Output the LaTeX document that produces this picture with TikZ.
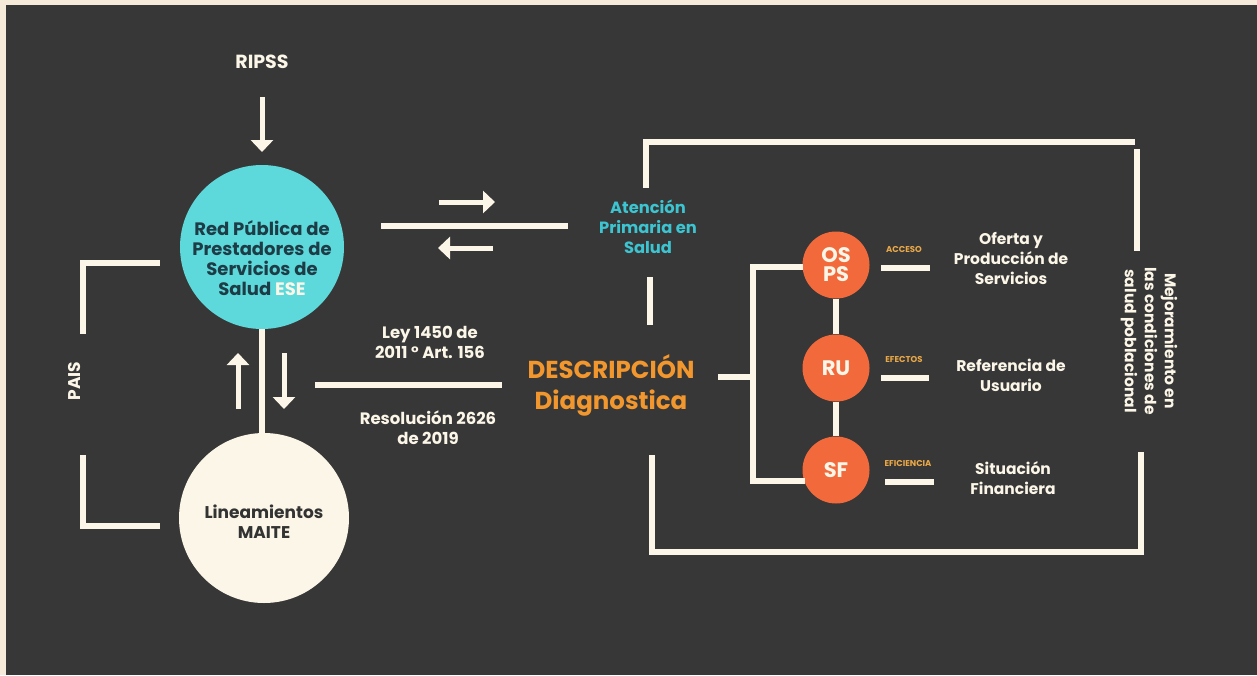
\documentclass[tikz,border=0pt]{standalone}
\usepackage{fontspec}
\setmainfont{Poppins}
\usetikzlibrary{arrows.meta}
\definecolor{bg}{HTML}{373737}
\definecolor{cream}{HTML}{FBF6E8}
\definecolor{strip}{HTML}{F6EBDA}
\definecolor{cyanc}{HTML}{5DD8DB}
\definecolor{cyantxt}{HTML}{3DC4D1}
\definecolor{orangec}{HTML}{F26A3B}
\definecolor{orangetxt}{HTML}{F2962E}
\definecolor{gold}{HTML}{EAA847}
\definecolor{darkteal}{HTML}{1D3C46}
\definecolor{darktxt}{HTML}{333333}
\tikzset{
  wline/.style={draw=cream,line width=6pt},
  warrow/.style={draw=cream,line width=5pt,-{Triangle[width=22pt,length=12pt]}},
  lbl/.style={text=cream,font=\bfseries\fontsize{15.5}{20}\selectfont,align=center,inner sep=0pt},
  small/.style={text=gold,font=\bfseries\fontsize{8.5}{9}\selectfont,inner sep=0pt},
  ocirc/.style={circle,fill=orangec,minimum size=67pt,inner sep=0pt,text=cream,font=\bfseries\fontsize{21}{22}\selectfont,align=center},
}
\begin{document}
\begin{tikzpicture}[x=1pt,y=-1pt]
\useasboundingbox (0,0) rectangle (1257,675);
\fill[strip] (0,0) rectangle (1257,675);
\fill[bg] (6,5) rectangle (1257,675);

% ---- left part ----
\node[lbl,font=\bfseries\fontsize{19}{20}\selectfont] (ripss) at (262,62) {RIPSS};
\coordinate (ripssA) at (262,97);
\coordinate (ripssB) at (262,152);
\draw[warrow] (ripssA) -- (ripssB);

\node[circle,fill=cyanc,minimum size=164pt,inner sep=0pt] (red) at (262,247) {};
\node[text=darkteal,font=\bfseries\fontsize{18}{20}\selectfont,align=center,inner sep=0pt] (redtxt) at (262,258)
  {Red Pública de\\Prestadores de\\Servicios de\\Salud \textcolor{cream}{ESE}};

\node[circle,fill=cream,minimum size=170pt,inner sep=0pt] (maite) at (264,518) {};
\node[text=darktxt,font=\bfseries\fontsize{17}{20}\selectfont,align=center,inner sep=0pt] (maitetxt) at (264,522)
  {Lineamientos\\MAITE};

\draw[wline] (red.south) -- (red.south |- maite.north);

% left brackets
\coordinate (lbA) at (160,263);
\coordinate (lbB) at (83,263);
\coordinate (lbC) at (83,334);
\draw[wline] (lbA) -- (lbB) -- (lbC);
\coordinate (lbD) at (83,455);
\coordinate (lbE) at (83,526);
\coordinate (lbF) at (160,526);
\draw[wline] (lbD) -- (lbE) -- (lbF);
\node[lbl,rotate=90,font=\bfseries\fontsize{17}{20}\selectfont] (pais) at (75,381) {PAIS};

% up/down arrows
\coordinate (upA) at (238,409);
\coordinate (upB) at (238,353);
\draw[warrow] (upA) -- (upB);
\coordinate (dnA) at (284,353);
\coordinate (dnB) at (284,409);
\draw[warrow] (dnA) -- (dnB);

% line to descripcion
\coordinate (ldA) at (315,385);
\coordinate (ldB) at (502,385);
\draw[wline] (ldA) -- (ldB);
\node[lbl,font=\bfseries\fontsize{16.5}{20}\selectfont] (ley) at (430,342) {Ley 1450 de\\2011 ° Art. 156};
\node[lbl,font=\bfseries\fontsize{16.5}{20}\selectfont] (res) at (428,428) {Resolución 2626\\de 2019};

% line to APS with arrows
\coordinate (laA) at (381,226);
\coordinate (laB) at (568,226);
\draw[wline] (laA) -- (laB);
\coordinate (raA) at (439,202);
\coordinate (raB) at (495,202);
\draw[warrow] (raA) -- (raB);
\coordinate (rbA) at (493,248);
\coordinate (rbB) at (438,248);
\draw[warrow] (rbA) -- (rbB);

\node[lbl,text=cyantxt,font=\bfseries\fontsize{16.3}{20}\selectfont] (aps) at (648,227) {Atención\\Primaria en\\Salud};
\coordinate (apsA) at (650,277);
\coordinate (apsB) at (650,325);
\draw[wline] (apsA) -- (apsB);

% DESCRIPCION
\node[text=orangetxt,font=\bfseries\fontsize{24.5}{31}\selectfont,align=center,inner sep=0pt] (desc) at (611,385)
  {DESCRIPCIÓN\\Diagnostica};

% top bracket
\coordinate (tbA) at (646,188);
\coordinate (tbB) at (646,142);
\coordinate (tbC) at (1135,142);
\draw[wline] (tbA) -- (tbB) -- (tbC);
\coordinate (trA) at (1137,149);
\coordinate (trB) at (1137,251);
\draw[wline] (trA) -- (trB);

% bottom bracket
\coordinate (bbA) at (652,455);
\coordinate (bbB) at (652,552);
\coordinate (bbC) at (1141,552);
\coordinate (bbD) at (1141,452);
\draw[wline] (bbA) -- (bbB) -- (bbC) -- (bbD);

\node[lbl,rotate=-90] (mejor) at (1149,341) {Mejoramiento en\\las condiciones de\\salud poblacional};

% ---- right tree ----
\node[ocirc] (osps) at (836,265) {OS\\[-3pt]PS};
\node[ocirc] (ru) at (836,368) {RU};
\node[ocirc] (sf) at (836,470) {SF};
\draw[wline] (osps.south) -- (ru.north);
\draw[wline] (ru.south) -- (sf.north);

\coordinate (tA) at (718,377);
\coordinate (tB) at (753,377);
\draw[wline] (tA) -- (tB);
\coordinate (tC) at (803,267);
\coordinate (tD) at (753,267);
\coordinate (tE) at (753,481);
\coordinate (tF) at (805,481);
\draw[wline] (tC) -- (tD) -- (tE) -- (tF);

\coordinate (s1A) at (881,268);
\coordinate (s1B) at (930,268);
\draw[wline] (s1A) -- (s1B);
\coordinate (s2A) at (881,378);
\coordinate (s2B) at (929,378);
\draw[wline] (s2A) -- (s2B);
\coordinate (s3A) at (885,482);
\coordinate (s3B) at (934,482);
\draw[wline] (s3A) -- (s3B);

\node[small] (acc) at (904,249) {ACCESO};
\node[small] (efe) at (904,359) {EFECTOS};
\node[small] (efi) at (908,463) {EFICIENCIA};

\node[lbl] (oferta) at (1011,258) {Oferta y\\Producción de\\Servicios};
\node[lbl] (refer) at (1011,375) {Referencia de\\Usuario};
\node[lbl] (sitfin) at (1013,478) {Situación\\Financiera};
\end{tikzpicture}
\end{document}
